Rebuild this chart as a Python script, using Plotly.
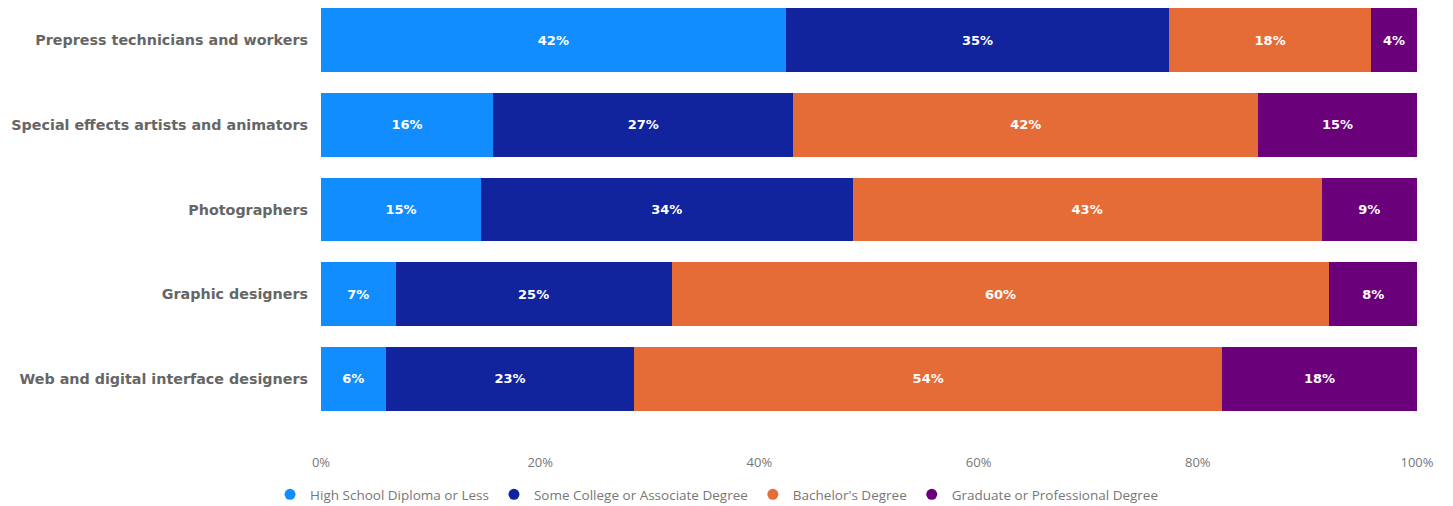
import plotly.graph_objects as go

categories = [
    "Prepress technicians and workers",
    "Special effects artists and animators",
    "Photographers",
    "Graphic designers",
    "Web and digital interface designers",
]
series_names = [
    "High School Diploma or Less",
    "Some College or Associate Degree",
    "Bachelor's Degree",
    "Graduate or Professional Degree",
]
high_school = [42.4, 15.7, 14.6, 6.8, 5.9]
some_college = [35.0, 27.4, 33.9, 25.2, 22.7]
bachelors = [18.4, 42.4, 42.8, 60.0, 53.6]
graduate = [4.2, 14.5, 8.7, 8.0, 17.8]
colors = ["#118DFF", "#12239E", "#E66C37", "#6B007B"]
tick_vals = [0, 20, 40, 60, 80, 100]
tick_text = ["0%", "20%", "40%", "60%", "80%", "100%"]

fig = go.Figure()
for name, vals, col in zip(series_names, [high_school, some_college, bachelors, graduate], colors):
    fig.add_trace(go.Bar(
        y=list(range(len(categories))), x=vals, name=name, orientation="h",
        marker=dict(color=col, line=dict(width=0)),
        texttemplate="%{x:.0f}%", textposition="inside", insidetextanchor="middle",
        textfont=dict(color="white", size=13, family="DejaVu Sans", weight="bold"),
        textangle=0, showlegend=False,
    ))
# legend entries with circle markers
for name, col in zip(series_names, colors):
    fig.add_trace(go.Scatter(
        x=[None], y=[None], mode="markers", name=name,
        marker=dict(color=col, size=11, symbol="circle"), showlegend=True,
    ))

fig.update_layout(
    barmode="stack",
    bargap=0.245,
    width=1445, height=498,
    margin=dict(l=313, r=36, t=0, b=85, autoexpand=False),
    plot_bgcolor="white", paper_bgcolor="white",
    font=dict(family="Open Sans", color="#666666"),
    uniformtext=dict(minsize=8, mode="show"),
    xaxis=dict(range=[0, 100], tickvals=tick_vals, ticktext=tick_text, showgrid=False,
               zeroline=False, showline=False, ticks="", ticklabelstandoff=32,
               automargin=False, tickfont=dict(size=13, color="#777777")),
    yaxis=dict(range=[4.496, -0.378], tickvals=list(range(len(categories))), ticktext=categories,
               showgrid=False, showline=False, zeroline=False, ticks="",
               ticklabelstandoff=12, automargin=False,
               tickfont=dict(size=14.3, color="#666666", family="DejaVu Sans", weight="bold")),
    legend=dict(orientation="h", x=-0.0465, xanchor="left", y=-0.178, yanchor="middle",
                font=dict(size=13.5, color="#777777"), traceorder="normal",
                itemwidth=30, tracegroupgap=0),
    showlegend=True,
)
fig.write_html("out.html")
